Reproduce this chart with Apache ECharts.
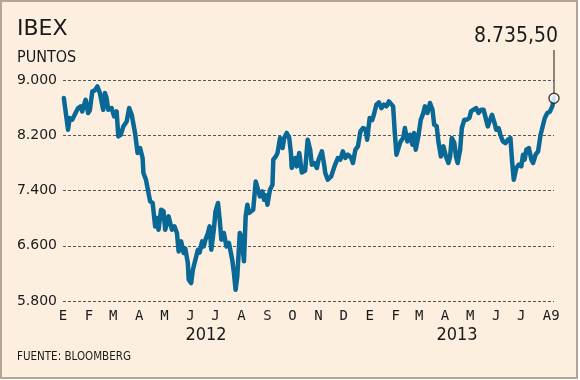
<!DOCTYPE html>
<html><head><meta charset="utf-8">
<script src="https://cdn.jsdelivr.net/npm/echarts@6/dist/echarts.min.js"></script>
<style>html,body{margin:0;padding:0;background:#fff}#c{width:580px;height:380px}</style>
</head><body><div id="c"></div>
<script>
const dates = ['2012-01-02','2012-01-07','2012-01-09','2012-01-12','2012-01-16','2012-01-19','2012-01-22','2012-01-24','2012-01-28','2012-01-31',
'2012-02-02','2012-02-05','2012-02-08','2012-02-11','2012-02-14','2012-02-18','2012-02-20','2012-02-22','2012-02-24','2012-02-28',
'2012-03-02','2012-03-05','2012-03-07','2012-03-10','2012-03-13','2012-03-17','2012-03-20','2012-03-23','2012-03-27','2012-03-30',
'2012-04-02','2012-04-05','2012-04-06','2012-04-09','2012-04-11','2012-04-14','2012-04-17','2012-04-20','2012-04-22','2012-04-24','2012-04-27','2012-04-30',
'2012-05-02','2012-05-06','2012-05-08','2012-05-10','2012-05-13','2012-05-16','2012-05-18','2012-05-21','2012-05-24','2012-05-26','2012-05-29','2012-05-30',
'2012-06-02','2012-06-04','2012-06-07','2012-06-10','2012-06-12','2012-06-15','2012-06-17','2012-06-19','2012-06-22','2012-06-24','2012-06-26','2012-06-29',
'2012-07-01','2012-07-04','2012-07-06','2012-07-08','2012-07-11','2012-07-14','2012-07-17','2012-07-19','2012-07-21','2012-07-23','2012-07-25','2012-07-27','2012-07-30',
'2012-08-01','2012-08-04','2012-08-06','2012-08-08','2012-08-10','2012-08-12','2012-08-15','2012-08-18','2012-08-20','2012-08-23','2012-08-26','2012-08-28','2012-08-30',
'2012-09-01','2012-09-04','2012-09-07','2012-09-08','2012-09-11','2012-09-13','2012-09-16','2012-09-19','2012-09-21','2012-09-24','2012-09-27','2012-09-29','2012-09-30',
'2012-10-04','2012-10-06','2012-10-09','2012-10-12','2012-10-16','2012-10-19','2012-10-22','2012-10-24','2012-10-27','2012-10-30',
'2012-11-01','2012-11-05','2012-11-08','2012-11-09','2012-11-12','2012-11-16','2012-11-18','2012-11-20','2012-11-24','2012-11-27','2012-11-30',
'2012-12-03','2012-12-06','2012-12-10','2012-12-12','2012-12-15','2012-12-18','2012-12-21','2012-12-24','2012-12-27','2012-12-29',
'2013-01-01','2013-01-04','2013-01-06','2013-01-09','2013-01-12','2013-01-15','2013-01-18','2013-01-21','2013-01-24','2013-01-26','2013-01-29','2013-01-31',
'2013-02-02','2013-02-05','2013-02-07','2013-02-10','2013-02-12','2013-02-15','2013-02-18','2013-02-21','2013-02-23','2013-02-25','2013-02-28',
'2013-03-03','2013-03-06','2013-03-08','2013-03-11','2013-03-14','2013-03-17','2013-03-19','2013-03-22','2013-03-24','2013-03-27','2013-03-30',
'2013-04-02','2013-04-05','2013-04-07','2013-04-09','2013-04-12','2013-04-14','2013-04-16','2013-04-19','2013-04-21','2013-04-24','2013-04-27','2013-04-30',
'2013-05-02','2013-05-05','2013-05-08','2013-05-11','2013-05-14','2013-05-17','2013-05-19','2013-05-22','2013-05-24','2013-05-27','2013-05-30',
'2013-06-01','2013-06-04','2013-06-06','2013-06-09','2013-06-12','2013-06-15','2013-06-18','2013-06-20','2013-06-22','2013-06-25','2013-06-28',
'2013-07-01','2013-07-03','2013-07-05','2013-07-07','2013-07-10','2013-07-13','2013-07-15','2013-07-18','2013-07-21','2013-07-24','2013-07-27','2013-07-29',
'2013-08-01','2013-08-04','2013-08-07','2013-08-09'];

const values = [8739,8280,8450,8425,8522,8594,8618,8545,8715,8522,
8560,8835,8850,8907,8812,8570,8812,8739,8570,8594,
8473,8545,8183,8208,8328,8400,8594,8497,8233,7943,
8015,7871,7653,7556,7581,7242,7220,6880,7002,6832,7122,7100,
6832,7025,7050,6832,6880,6785,6518,6663,6495,6560,6350,6108,
6060,6253,6398,6543,6500,6663,6590,6688,6785,6880,6543,6832,
7097,7219,6977,6688,6785,6590,6640,6615,6398,6205,5963,6156,6785,
6737,6374,7025,7194,7074,7060,7122,7532,7550,7315,7387,7267,7330,
7194,7412,7484,7846,7894,7943,8160,8015,8160,8233,8160,7943,7726,
7871,7749,7943,7660,7690,8136,7991,7774,7798,7726,
7846,7966,7749,7653,7556,7604,7581,7749,7871,7846,7966,
7871,7918,7871,7798,7991,8039,8256,8305,8290,8136,
8450,8420,8497,8642,8676,8594,8642,8618,8690,8715,8618,8233,
7918,8039,8111,8160,8305,8111,8208,8063,8233,7991,8180,
8425,8520,8618,8522,8667,8570,8353,8330,8111,7894,8039,
7894,7798,7894,8160,8090,7894,7798,7991,8305,8425,8425,8450,
8545,8570,8594,8522,8570,8570,8473,8328,8400,8497,8380,
8280,8300,8208,8111,8087,8136,8160,7822,7556,7726,7774,
7750,7918,7846,7991,8015,7846,7798,7918,7966,8208,8353,8450,
8522,8540,8618,8735.5];

const monthStarts = ['2012-01-01','2012-02-01','2012-03-01','2012-04-01','2012-05-01','2012-06-01','2012-07-01','2012-08-01','2012-09-01','2012-10-01','2012-11-01','2012-12-01',
'2013-01-01','2013-02-01','2013-03-01','2013-04-01','2013-05-01','2013-06-01','2013-07-01','2013-08-01'];
const monthLabels = ['E','F','M','A','M','J','J','A','S','O','N','D','E','F','M','A','M','J','J','A9'];
const yearLabels = ['2012','2013'];
const axisStart = '2012-01-01';
const axisEnd = '2013-08-09';
const yMin = 5800, yMax = 9000, yStep = 800;

function ts(s){ const p = s.split('-').map(Number); return Date.UTC(p[0], p[1]-1, p[2]); }
function thousands(v){ return String(Math.trunc(v)).replace(/\B(?=(\d{3})+(?!\d))/g, '.'); }
function esNum(v){ const f = v.toFixed(2).split('.'); return thousands(Number(f[0])) + ',' + f[1]; }

const monthTs = monthStarts.map(ts);
const lastDate = dates[dates.length-1], lastVal = values[values.length-1];

const chart = echarts.init(document.getElementById('c'), null, {renderer:'canvas'});
chart.setOption({
  animation:false,
  backgroundColor:'#fcefdf',
  grid:{left:63,right:26,top:80,bottom:79},
  xAxis:{
    type:'value', min:ts(axisStart), max:ts(axisEnd),
    axisLine:{show:false}, axisTick:{show:false}, splitLine:{show:false},
    axisLabel:{
      customValues: monthTs,
      fontFamily:'DejaVu Sans Mono', fontSize:14, color:'#1a1a1a', margin:8,
      formatter:function(v){
        const i = monthTs.indexOf(v);
        if (i < 0) return '';
        if (i === monthLabels.length-1) return '{e|' + monthLabels[i] + '}';
        return monthLabels[i];
      },
      rich:{e:{fontFamily:'DejaVu Sans Mono', fontSize:14, color:'#1a1a1a', padding:[0,0,0,8]}}
    }
  },
  yAxis:{
    type:'value', min:yMin, max:yMax, interval:yStep,
    axisLine:{show:false}, axisTick:{show:false},
    axisLabel:{formatter:thousands, fontFamily:'DejaVu Sans', fontSize:14, color:'#1a1a1a', margin:6},
    splitLine:{lineStyle:{type:[3,2], color:'#555', width:1}}
  },
  series:[
    {type:'line', data:dates.map((d,i)=>[ts(d), values[i]]), showSymbol:false,
     lineStyle:{color:'#0a6896', width:4.5, join:'round', cap:'round'}, z:3},
    {type:'scatter', data:[[ts(lastDate), lastVal]], symbol:'circle', symbolSize:10,
     itemStyle:{color:'#ffffff', borderColor:'#1a1a1a', borderWidth:1.5}, z:5}
  ]
});

const p = chart.convertToPixel({gridIndex:0}, [ts(lastDate), lastVal]);
function txt(text, x, y, font, align){
  return {type:'text', x:x, y:y, silent:true,
    style:{text:text, font:font, fill:'#1a1a1a', align:align||'left', textAlign:align||'left', verticalAlign:'middle', textVerticalAlign:'middle'}};
}
chart.setOption({
  graphic:[
    {type:'rect', silent:true, shape:{x:1,y:1,width:576,height:377}, style:{fill:null, stroke:'#b4a597', lineWidth:2}},
    {type:'rect', silent:true, shape:{x:578,y:0,width:2,height:380}, style:{fill:'#ffffff'}},
    {type:'rect', silent:true, shape:{x:0,y:379,width:580,height:1}, style:{fill:'#ffffff'}},
    txt('IBEX', 17, 29, '22px "DejaVu Sans"'),
    txt('PUNTOS', 17, 57.5, '16px "DejaVu Sans Condensed"'),
    txt(yearLabels[0], 206, 335.5, '18px "DejaVu Sans Condensed"', 'center'),
    txt(yearLabels[1], 457, 335.5, '18px "DejaVu Sans Condensed"', 'center'),
    txt('FUENTE: BLOOMBERG', 17, 357, '11.5px "DejaVu Sans Condensed"'),
    {type:'line', silent:true, shape:{x1:p[0], y1:50, x2:p[0], y2:p[1]}, style:{stroke:'#1a1a1a', lineWidth:1}},
    txt(esNum(lastVal), p[0]+4, 36.7, '21px "DejaVu Sans Condensed"', 'right')
  ]
});
</script>
</body></html>
